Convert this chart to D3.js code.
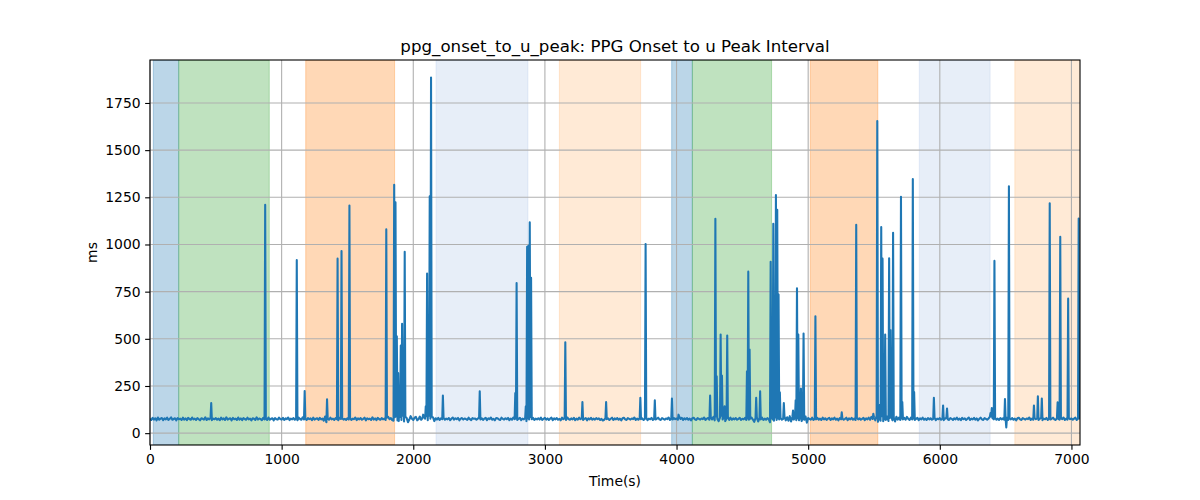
<!DOCTYPE html>
<html>
<head>
<meta charset="utf-8">
<script src="https://cdn.jsdelivr.net/npm/d3@7"></script>
<style>
    body { margin: 0; background: #ffffff; }
    #vis { width: 1200px; height: 500px; }
    text { font-family: "DejaVu Sans", sans-serif; fill: #000000; }
</style>
</head>
<body>
<div id="vis"></div>
<script>
// chart data
const chartTitle = "ppg_onset_to_u_peak: PPG Onset to u Peak Interval";
const xLabel = "Time(s)";
const yLabel = "ms";
const xTicks = [0, 1000, 2000, 3000, 4000, 5000, 6000, 7000];
const yTicks = [0, 250, 500, 750, 1000, 1250, 1500, 1750];
const xMax = 7065;

// seconds between two baseline samples
const sampleStep = 10;

// baseline interval in ms, one value per sample (0 s, 10 s, 20 s ...)
const baseline = [
    76,70,81,72,79,68,83,71,77,80,69,78,73,82,70,76,84,71,75,79,68,80,74,77,70,82,72,78,69,81,75,71,83,73,77,70,80,74,68,79,76,72,84,70,78,73,81,69,77,74,
    80,71,77,69,82,73,78,70,84,72,76,79,68,81,74,77,70,83,72,78,69,80,75,71,82,73,77,68,79,76,70,84,72,78,74,69,81,73,77,70,83,71,76,79,68,80,74,72,82,75,
    72,81,70,78,74,83,69,77,73,80,71,79,68,82,75,71,84,73,77,70,80,74,78,69,82,72,76,79,70,81,73,77,66,88,58,78,71,82,73,77,70,80,74,68,81,75,79,72,76,70,
    79,72,81,70,77,74,83,69,78,73,80,71,76,82,68,79,74,77,70,84,72,78,69,81,75,71,80,73,77,70,82,86,74,80,69,66,85,88,67,64,86,70,92,62,87,80,58,72,90,76,
    70,82,86,68,74,88,71,80,87,77,90,69,92,76,88,84,64,79,72,81,70,78,74,82,71,77,73,80,69,76,83,72,79,74,81,68,77,80,72,78,75,70,82,74,69,80,76,78,71,77,
    82,73,79,70,77,81,69,78,74,83,71,76,68,80,79,73,70,82,76,72,79,74,81,69,77,71,83,74,78,70,76,81,69,77,73,80,64,78,72,86,74,81,70,77,73,79,72,82,70,76,
    81,72,78,70,77,82,69,79,73,80,71,76,68,82,74,79,70,83,75,71,78,73,81,69,77,72,82,74,78,70,76,80,68,78,73,81,71,77,72,80,74,78,70,76,67,71,80,74,78,70,
    76,82,70,78,73,80,71,77,68,79,82,73,70,80,76,72,78,74,83,70,77,71,80,74,78,70,76,82,69,77,74,81,70,78,72,76,82,73,70,80,76,71,78,74,83,70,77,72,80,74,
    78,71,88,75,81,70,79,73,80,71,77,68,79,82,73,70,80,76,72,78,74,83,70,77,80,71,84,73,86,68,88,75,64,82,92,72,85,64,78,87,70,82,71,78,73,80,71,76,81,70,
    76,73,81,70,78,71,77,82,72,60,80,84,62,78,73,82,70,77,71,80,74,58,79,72,66,83,70,78,73,81,71,76,88,68,84,66,90,62,86,72,82,69,79,68,86,64,82,71,88,56,
    80,76,71,82,70,78,73,81,71,77,70,82,73,79,70,77,81,70,78,73,82,71,77,68,80,73,78,71,76,82,69,78,73,81,71,77,70,82,73,79,71,76,81,69,78,73,82,71,86,76,
    84,68,92,60,88,66,90,63,86,70,88,65,80,92,68,84,62,87,72,82,70,78,73,81,71,86,76,70,82,73,78,70,76,81,69,78,73,82,71,77,70,80,73,79,71,76,82,69,77,74,
    80,71,78,69,77,82,73,70,80,76,70,79,73,82,71,77,69,81,74,78,70,76,83,70,77,73,81,71,78,68,76,82,73,70,80,76,71,78,86,88,80,73,82,71,77,70,80,73,79,71,
    76,82,70,78,73,80,71,77,68,79,82,73,70,80,76,72,78,74,83,70,77,71,80,74,78,70,76,82,69,77,74,81,70,78,72,76,82,73,70,80,76,71,78,74,83,70,77,72,80,74,
    78,71,77,82,70,78,73
];

// [time s, interval ms] single beats that stand out of the baseline
const spikes = [
    [465,160],[875,1210],[1115,917],[1175,223],[1345,179],[1425,925],[1455,965],[1515,1206],
    [1795,1080],[1855,1317],[1865,1223],[1875,514],[1885,319],[1895,195],[1905,465],[1915,580],
    [1925,266],[1935,961],[2075,98],[2095,142],[2105,846],[2115,213],[2125,1255],[2135,1885],
    [2225,199],[2505,222],[2775,213],[2785,796],[2855,142],[2865,988],[2875,993],[2885,1117],
    [2895,824],[3155,482],[3285,165],[3465,165],[3725,188],[3765,1002],[3835,174],[3965,183],
    [4015,98],[4255,200],[4295,1136],[4305,301],[4335,523],[4345,305],[4365,142],[4385,518],
    [4535,328],[4545,856],[4555,443],[4605,188],[4635,222],[4715,908],[4725,150],[4735,1110],
    [4745,230],[4755,1262],[4765,1184],[4775,735],[4785,216],[4815,160],[4885,120],[4905,174],
    [4915,768],[4925,523],[4945,236],[4965,528],[5055,620],[5255,110],[5365,1105],[5495,103],
    [5525,1654],[5545,150],[5555,1092],[5565,925],[5585,523],[5615,927],[5625,546],[5645,1062],
    [5705,1253],[5715,165],[5795,1347],[5805,218],[5955,188],[6025,147],[6055,131],[6385,106],
    [6395,133],[6415,913],[6495,181],[6505,30],[6525,1308],[6715,147],[6745,195],[6775,184],
    [6835,1218],[6895,163],[6915,1041],[6975,713],[7055,1138]
];

// shaded activity segments: [start s, end s, group]
const segments = [
    [25,218,0],[218,906,1],[1183,1858,2],[2173,2871,3],[3110,3727,4],
    [3963,4120,0],[4120,4722,1],[5016,5529,2],[5844,6382,3],[6570,7100,4]
];
const groupColours = ["#1f77b4", "#2ca02c", "#ff7f0e", "#aec7e8", "#ffbb78"];

/**
 * Line chart of one interval series over time with shaded segments behind it
 */
class intervalChart{
    constructor(){
        this.width = 1200,
        this.height = 500,
        this.left = 150,
        this.right = 1080,
        this.top = 60,
        this.bottom = 445,
        this.svg,
        this.x,
        this.y,
        this.series
    }

    init(elementID){
        this.svg = d3.select('#' + elementID)
            .append("svg")
            .attr("width", this.width)
            .attr("height", this.height);

        // baseline samples and the single spike beats, merged in time order
        this.series = baseline.map(function(v, i){ return {t: i * sampleStep, v: v}; })
            .concat(spikes.map(function(d){ return {t: d[0], v: d[1]}; }))
            .sort(function(a, b){ return a.t - b.t; });

        // same 5% margin matplotlib puts round the data
        let lo = d3.min(this.series, d => d.v);
        let hi = d3.max(this.series, d => d.v);
        let pad = (hi - lo) * 0.05;

        this.x = d3.scaleLinear().domain([0, xMax]).range([this.left, this.right]);
        this.y = d3.scaleLinear().domain([lo - pad, hi + pad]).range([this.bottom, this.top]);

        this.svg.append("clipPath").attr("id", "plotArea")
            .append("rect")
            .attr("x", this.left).attr("y", this.top)
            .attr("width", this.right - this.left).attr("height", this.bottom - this.top);

        this.drawSegments();
        this.drawGrid();
        this.drawLine();
        this.drawAxes();
        this.drawText();
    }

    drawSegments(){
        let x = this.x;
        this.svg.append("g")
            .attr("clip-path", "url(#plotArea)")
            .selectAll("rect")
            .data(segments)
            .enter()
            .append("rect")
            .attr("x", d => x(d[0]))
            .attr("width", d => x(d[1]) - x(d[0]))
            .attr("y", this.top)
            .attr("height", this.bottom - this.top)
            .attr("fill", d => groupColours[d[2]])
            .attr("fill-opacity", 0.3)
            .attr("stroke", d => groupColours[d[2]])
            .attr("stroke-opacity", 0.3)
            .attr("stroke-width", 1);
    }

    drawGrid(){
        let g = this.svg.append("g").attr("stroke", "#b0b0b0").attr("stroke-width", 1.1);
        g.selectAll(".vgrid").data(xTicks).enter().append("line")
            .attr("class", "vgrid")
            .attr("x1", d => this.x(d)).attr("x2", d => this.x(d))
            .attr("y1", this.top).attr("y2", this.bottom);
        g.selectAll(".hgrid").data(yTicks).enter().append("line")
            .attr("class", "hgrid")
            .attr("x1", this.left).attr("x2", this.right)
            .attr("y1", d => this.y(d)).attr("y2", d => this.y(d));
    }

    drawLine(){
        let line = d3.line()
            .x(d => this.x(d.t))
            .y(d => this.y(d.v));

        this.svg.append("path")
            .datum(this.series)
            .attr("clip-path", "url(#plotArea)")
            .attr("fill", "none")
            .attr("stroke", "#1f77b4")
            .attr("stroke-width", 2.08)
            .attr("stroke-linejoin", "round")
            .attr("d", line);
    }

    drawAxes(){
        let xAxis = d3.axisBottom(this.x).tickValues(xTicks).tickSize(4.86).tickPadding(4.5).tickFormat(d3.format("d"));
        let yAxis = d3.axisLeft(this.y).tickValues(yTicks).tickSize(4.86).tickPadding(4.5).tickFormat(d3.format("d"));

        let gx = this.svg.append("g").attr("transform", "translate(0," + this.bottom + ")").call(xAxis);
        let gy = this.svg.append("g").attr("transform", "translate(" + this.left + ",0)").call(yAxis);

        [gx, gy].forEach(function(g){
            g.select(".domain").remove();
            g.selectAll(".tick line").attr("stroke", "#000").attr("stroke-width", 1.1);
            g.selectAll(".tick text").attr("font-size", "13.9px").attr("font-family", "DejaVu Sans");
        });

        // frame round the plot
        this.svg.append("rect")
            .attr("x", this.left).attr("y", this.top)
            .attr("width", this.right - this.left).attr("height", this.bottom - this.top)
            .attr("fill", "none")
            .attr("stroke", "#000")
            .attr("stroke-width", 1.1);
    }

    drawText(){
        let mid = (this.left + this.right) / 2;
        this.svg.append("text")
            .attr("x", mid).attr("y", 52)
            .attr("text-anchor", "middle")
            .attr("font-size", "16.67px")
            .text(chartTitle);

        this.svg.append("text")
            .attr("x", mid).attr("y", 486)
            .attr("text-anchor", "middle")
            .attr("font-size", "13.9px")
            .text(xLabel);

        this.svg.append("text")
            .attr("transform", "translate(97," + ((this.top + this.bottom) / 2) + ") rotate(-90)")
            .attr("text-anchor", "middle")
            .attr("font-size", "13.9px")
            .text(yLabel);
    }
}

document.addEventListener("DOMContentLoaded", function(){
    let chart = new intervalChart();
    chart.init("vis");
});
</script>
</body>
</html>
